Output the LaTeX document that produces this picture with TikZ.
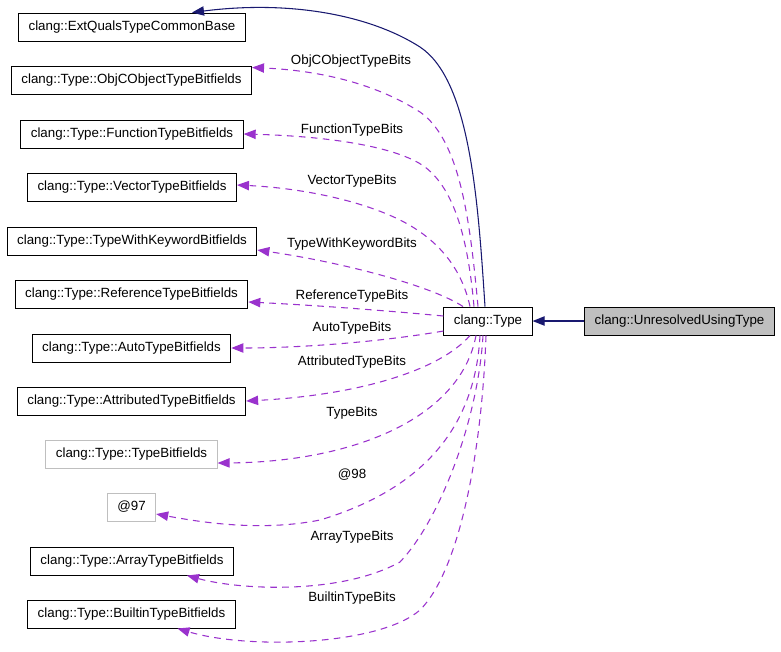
\documentclass[tikz,border=0pt]{standalone}
\usepackage{fontspec}
\setmainfont{Liberation Sans}
\usetikzlibrary{arrows.meta,calc}

\definecolor{edgeblue}{HTML}{191970}
\definecolor{edgepurple}{HTML}{9A32CD}
\definecolor{boxgray}{HTML}{BFBFBF}

\begin{document}
\begin{tikzpicture}[x=0.75pt,y=-0.75pt,
                    font=\fontsize{10}{12}\selectfont,
                    cls/.style={draw=black,line width=0.75pt,fill=white,inner xsep=7.5pt,inner ysep=0pt,minimum height=21pt},
                    ghost/.style={cls,draw=boxgray},
                    inh/.style={draw=edgeblue,line width=0.8pt,-{Triangle[length=9pt,width=7pt]}},
                    dep/.style={draw=edgepurple,line width=0.8pt,dash pattern=on 5pt off 4pt,-{Triangle[length=9pt,width=7pt]}},
                    lbl/.style={inner sep=1pt}
                    ]
    \useasboundingbox (0,0) rectangle (781,651);

    % left column
    \node[cls]   (ext)   at (132,27)    {clang::ExtQualsTypeCommonBase};
    \node[cls]   (objc)  at (131.5,80)  {clang::Type::ObjCObjectTypeBitfields};
    \node[cls]   (func)  at (132,134)   {clang::Type::FunctionTypeBitfields};
    \node[cls]   (vec)   at (132,187)   {clang::Type::VectorTypeBitfields};
    \node[cls]   (twk)   at (132,241)   {clang::Type::TypeWithKeywordBitfields};
    \node[cls]   (ref)   at (131.5,294) {clang::Type::ReferenceTypeBitfields};
    \node[cls]   (autot) at (131.5,348) {clang::Type::AutoTypeBitfields};
    \node[cls]   (attr)  at (131.5,401) {clang::Type::AttributedTypeBitfields};
    \node[ghost] (tbf)   at (131.5,454) {clang::Type::TypeBitfields};
    \node[ghost] (at97)  at (131.5,507) {@97};
    \node[cls]   (arr)   at (132,561)   {clang::Type::ArrayTypeBitfields};
    \node[cls]   (bti)   at (131.5,614) {clang::Type::BuiltinTypeBitfields};

    % right side
    \node[cls] (type) at (488,321) {clang::Type};
    \node[cls,fill=boxgray] (unres) at (679.5,321) {clang::UnresolvedUsingType};

    % inheritance
    \draw[inh] (unres) -- (type);
    \draw[inh] ($(type.north)+(-3,0)$) .. controls (478,200) and (470,80) .. (420,47)
        .. controls (370,15) and (290,0) .. ($(ext.north)+(60,0)$);

    % members
    \draw[dep] ($(type.north)+(-10,0)$) .. controls (470,220) and (460,140) .. (420,112)
        .. controls (370,80) and (310,70) .. ($(objc.north east)+(0,2)$);
    \draw[dep] ($(type.north)+(-14,0)$) .. controls (468,240) and (455,190) .. (425,167)
        .. controls (395,145) and (320,136) .. (func.east);
    \draw[dep] ($(type.north)+(-18,0)$) .. controls (462,270) and (440,240) .. (400,220)
        .. controls (360,200) and (300,188) .. ($(vec.east)+(0,-2)$);
    \draw[dep] ($(type.north)+(-25,0)$) .. controls (430,285) and (340,262) .. ($(twk.east)+(0,9)$);
    \draw[dep] ($(type.west)+(0,-5)$) .. controls (380,310) and (310,305) .. ($(ref.east)+(0,8)$);
    \draw[dep] ($(type.west)+(0,10)$) .. controls (380,342) and (300,348) .. (autot.east);
    \draw[dep] ($(type.south)+(-18,0)$) .. controls (440,370) and (360,395) .. (attr.east);
    \draw[dep] ($(type.south)+(-12,0)$) .. controls (460,420) and (350,462) .. ($(tbf.east)+(0,9)$);
    \draw[dep] ($(type.south)+(-8,0)$) .. controls (475,430) and (420,490) .. (320,520)
        .. controls (260,532) and (200,522) .. ($(at97.east)+(0,7)$);
    \draw[dep] ($(type.south)+(-5,0)$) .. controls (478,420) and (440,520) .. (400,562)
        .. controls (340,595) and (240,590) .. ($(arr.south)+(55,0)$);
    \draw[dep] ($(type.south)+(-2,0)$) .. controls (482,450) and (460,570) .. (420,610)
        .. controls (380,645) and (250,650) .. ($(bti.south)+(46,0)$);

    % edge labels
    \node[lbl] (lobjc)  at (351,61)  {ObjCObjectTypeBits};
    \node[lbl] (lfunc)  at (352,130) {FunctionTypeBits};
    \node[lbl] (lvec)   at (352,181) {VectorTypeBits};
    \node[lbl] (ltwk)   at (352,244) {TypeWithKeywordBits};
    \node[lbl] (lref)   at (352,296) {ReferenceTypeBits};
    \node[lbl] (lauto)  at (352,328) {AutoTypeBits};
    \node[lbl] (lattr)  at (352,362) {AttributedTypeBits};
    \node[lbl] (ltbf)   at (352,413) {TypeBits};
    \node[lbl] (l98)    at (352,475) {@98};
    \node[lbl] (larr)   at (352,537) {ArrayTypeBits};
    \node[lbl] (lbti)   at (352,598) {BuiltinTypeBits};
\end{tikzpicture}
\end{document}
